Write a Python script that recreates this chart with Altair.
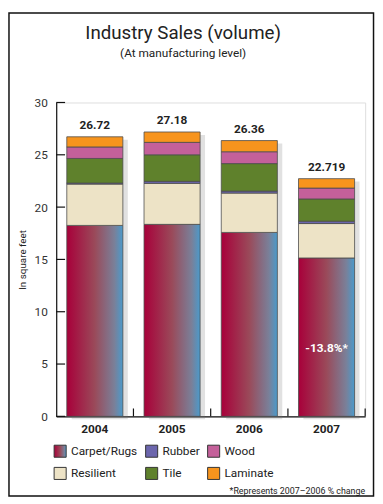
import altair as alt
import pandas as pd

years = ["2004", "2005", "2006", "2007"]
carpet = [18.25, 18.35, 17.58, 15.14]
resilient = [3.95, 3.92, 3.76, 3.29]
rubber = [0.10, 0.19, 0.19, 0.22]
tile = [2.35, 2.54, 2.63, 2.13]
wood = [1.10, 1.19, 1.13, 1.04]
laminate = [0.97, 0.99, 1.07, 0.90]
total_labels = ["26.72", "27.18", "26.36", "22.719"]
change_label = "-13.8%*"
change_year = "2007"
change_pos = 6.5
y_ticks = [0, 5, 10, 15, 20, 25, 30]
footnote = "*Represents 2007\u20132006 % change"

categories = ["Carpet/Rugs", "Resilient", "Rubber", "Tile", "Wood", "Laminate"]
cat_colors = ["#a0003a", "#ede3c6", "#6c66ad", "#5f812c", "#c4609a", "#f7941d"]
carpet_stops = [(0, "#a8003a"), (0.5, "#9a4a5a"), (0.85, "#7a8099"), (1, "#4a9acb")]

series = {"Carpet/Rugs": carpet, "Resilient": resilient, "Rubber": rubber,
          "Tile": tile, "Wood": wood, "Laminate": laminate}
rows = []
for cat in categories:
    for yr, v in zip(years, series[cat]):
        rows.append({"year": yr, "cat": cat, "value": v, "rank": categories.index(cat)})
df = pd.DataFrame(rows)

totals = pd.DataFrame({"year": years, "label": total_labels,
                       "total": [float(t) for t in total_labels]})
ann = pd.DataFrame({"year": [change_year], "pos": [change_pos], "label": [change_label]})
ticks_df = pd.DataFrame({"t": y_ticks})
one = pd.DataFrame({"k": [1]})

FONT = "Roboto"
W, H = 314, 319

# Carpet/Rugs colour is a left-to-right gradient (used by bars and legend swatch)
stops_js = ", ".join("{offset: %s, color: '%s'}" % (o, c) for o, c in carpet_stops)
carpet_grad = alt.ExprRef(
    expr="{gradient: 'linear', x1: 0, y1: 0, x2: 1, y2: 0, stops: [%s]}" % stops_js)
color_range = [carpet_grad] + cat_colors[1:]

xenc = alt.X("year:N", sort=years,
             scale=alt.Scale(domain=years, paddingInner=0, paddingOuter=0),
             axis=alt.Axis(title=None, labelAngle=0, ticks=False, tickSize=0,
                           labelPadding=7, labelFontSize=12, labelFontWeight="bold",
                           labelColor="#222", labelFont=FONT, domainColor="#111",
                           domainWidth=1.2))
yscale = alt.Scale(domain=[0, 30], nice=False)

shadow = alt.Chart(totals).mark_bar(width=57, color="#777", opacity=0.22,
                                    xOffset=5, yOffset=3).encode(
    x=xenc, y=alt.Y("total:Q", scale=yscale))

bars = alt.Chart(df).mark_bar(width=57, stroke="#4d4d4d", strokeWidth=0.8).encode(
    x=xenc,
    y=alt.Y("value:Q", stack="zero", scale=yscale,
            axis=alt.Axis(title="In square feet", values=y_ticks, ticks=False, tickSize=0,
                          grid=False, labelPadding=9, labelFontSize=12, labelColor="#333",
                          labelFont=FONT, domainColor="#111", domainWidth=1.2,
                          titleFont=FONT, titleFontSize=10, titleFontWeight="normal",
                          titleColor="#222", titleX=-29, titleY=159.5)),
    color=alt.Color("cat:N", scale=alt.Scale(domain=categories, range=color_range),
                    legend=alt.Legend(title=None, orient="none", legendX=-3, legendY=347,
                                      columns=3, gridAlign="each", columnPadding=5,
                                      rowPadding=5, symbolType="square", symbolSize=150,
                                      symbolStrokeColor="#333", symbolStrokeWidth=1,
                                      labelFont=FONT, labelFontSize=12, labelColor="#222",
                                      labelOffset=4, padding=0)),
    order=alt.Order("rank:Q", sort="ascending"),
)

labels = alt.Chart(totals).mark_text(dy=-5, baseline="bottom", font=FONT, fontSize=12,
                                     fontWeight="bold", color="#222").encode(
    x=xenc, y=alt.Y("total:Q", scale=yscale), text="label:N")

annot = alt.Chart(ann).mark_text(font=FONT, fontSize=12, fontWeight="bold",
                                 color="white").encode(
    x=xenc, y=alt.Y("pos:Q", scale=yscale), text="label:N")

yt = alt.Chart(ticks_df).mark_rule(color="#111", strokeWidth=1.2).encode(
    y=alt.Y("t:Q", scale=yscale), x=alt.value(0), x2=alt.value(9))

xt = alt.Chart(totals).mark_rule(color="#111", strokeWidth=1.2).encode(
    x=alt.X("year:N", sort=years, bandPosition=1), y=alt.value(H - 8), y2=alt.value(H))

foot = alt.Chart(one).mark_text(align="right", baseline="middle", font=FONT,
                                fontSize=9, color="#222").encode(
    x=alt.value(W), y=alt.value(395), text=alt.datum(footnote))

frame = alt.Chart(one).mark_rect(filled=False, stroke="#111", strokeWidth=1.5).encode(
    x=alt.value(-48), x2=alt.value(322.5), y=alt.value(-91), y2=alt.value(400))

chart = alt.layer(shadow, bars, labels, annot, yt, xt, foot, frame).properties(
    width=W, height=H,
    title=alt.TitleParams("Industry Sales (volume)", subtitle="(At manufacturing level)",
                          font=FONT, fontSize=19, fontWeight="normal", color="#222",
                          subtitleFont=FONT, subtitleFontSize=12, subtitleColor="#222",
                          subtitlePadding=6, anchor="middle", dx=-28, offset=-48),
    autosize=alt.AutoSizeParams(type="none"),
    padding={"left": 49, "top": 92, "right": 10, "bottom": 82},
).configure_view(stroke=None).configure(background="white")

chart.save("out.html", embed_options={"renderer": "svg", "actions": False})
